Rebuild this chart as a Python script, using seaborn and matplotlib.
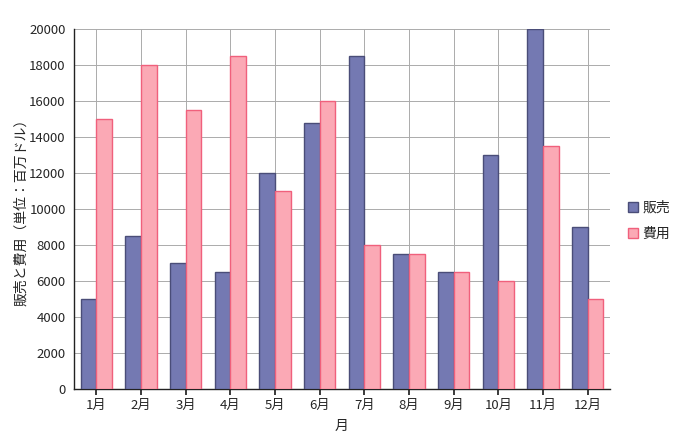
import matplotlib
matplotlib.use("Agg")
import matplotlib.pyplot as plt
import seaborn as sns
import pandas as pd
from matplotlib.patches import Patch

months = ["1月", "2月", "3月", "4月", "5月", "6月", "7月", "8月", "9月", "10月", "11月", "12月"]
sales = [5000, 8500, 7000, 6500, 12000, 14800, 18500, 7500, 6500, 13000, 20000, 9000]
costs = [15000, 18000, 15500, 18500, 11000, 16000, 8000, 7500, 6500, 6000, 13500, 5000]
series = ["販売", "費用"]
fills = ["#7479b2", "#fba9b5"]
edges = ["#4a4d78", "#f0607c"]

df = pd.DataFrame({
    "月": months * 2,
    "値": sales + costs,
    "系列": [series[0]] * len(months) + [series[1]] * len(months),
})

sns.set_theme(style="white")
plt.rcParams["font.family"] = ["Noto Sans CJK JP", "DejaVu Sans"]

fig = plt.figure(figsize=(6.83, 4.44), dpi=100)
ax = fig.add_axes([74/683, 1-389/444, (610-74)/683, (389-29)/444])

sns.barplot(data=df, x="月", y="値", hue="系列", order=months, hue_order=series,
            palette=fills, width=0.7, ax=ax, legend=False, saturation=1)

for i, cont in enumerate(ax.containers):
    for p in cont:
        p.set_edgecolor(edges[i])
        p.set_linewidth(1.0)
        p.set_zorder(3)

ax.set_xlim(-0.5, len(months) - 0.5)
ax.set_ylim(0, 20000)
ax.set_yticks(range(0, 20001, 2000))
ax.grid(True, axis="both", color="#ababab", linewidth=0.7, zorder=0)
ax.set_axisbelow(True)
for s in ["top", "right"]:
    ax.spines[s].set_visible(False)
for s in ["left", "bottom"]:
    ax.spines[s].set_color("#222222")
    ax.spines[s].set_linewidth(1.0)
ax.tick_params(axis="x", bottom=True, length=4, color="#222222", labelsize=9.5, pad=3)
ax.tick_params(axis="y", left=False, length=0, labelsize=9.5, pad=6)
ax.set_xlabel("月", fontsize=10, labelpad=5)
ax.set_ylabel("販売と費用（単位：百万ドル）", fontsize=10)
ax.yaxis.set_label_coords(-0.085, 0.5)

handles = [Patch(facecolor=fills[i], edgecolor=edges[i], label=series[i]) for i in range(2)]
ax.legend(handles=handles, loc="center left", bbox_to_anchor=(1.01, 0.467), frameon=False,
          fontsize=10, handlelength=0.75, handleheight=0.75, handletextpad=0.3, labelspacing=0.9)

fig.savefig("out.png", dpi=100)
